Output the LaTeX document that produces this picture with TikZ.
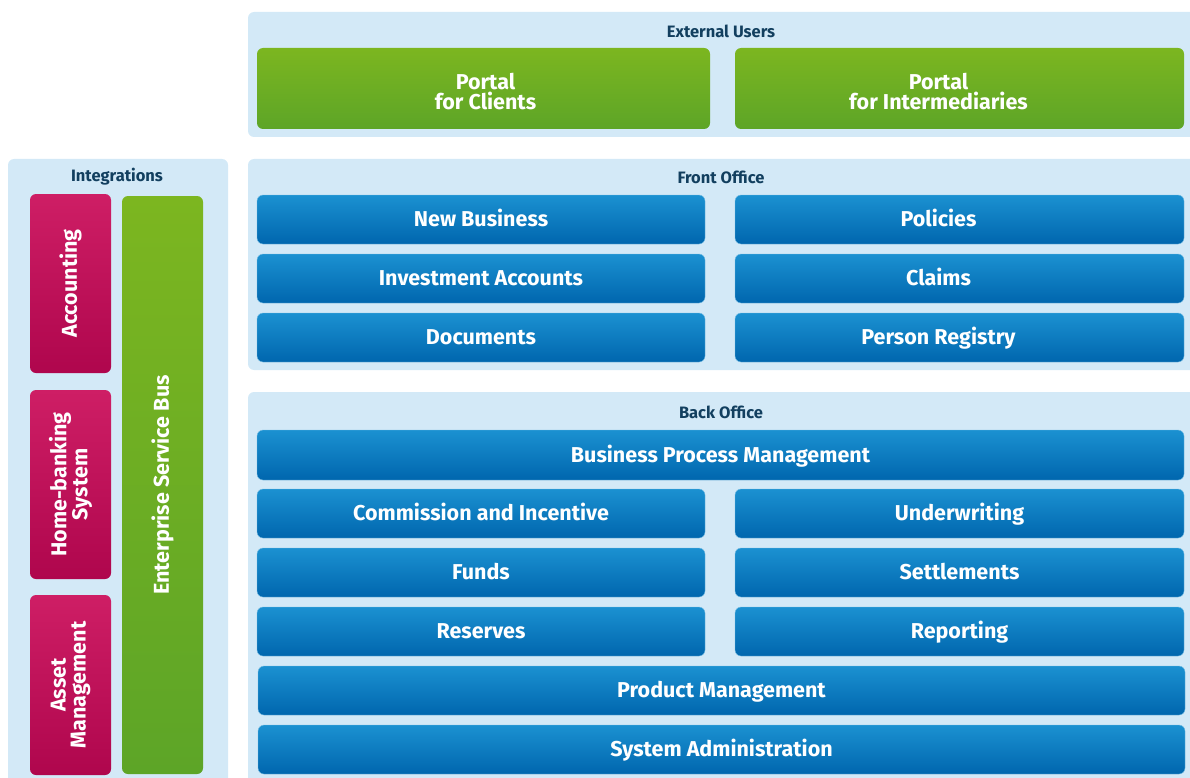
\documentclass[tikz,border=0pt]{standalone}
\usepackage{fontspec}
\setmainfont{Fira Sans}
\usepackage{tikz}
\usetikzlibrary{positioning, calc}

\definecolor{panelbg}{HTML}{D3E9F7}
\definecolor{titleblue}{HTML}{123F5F}
\definecolor{bluetop}{HTML}{1B91D1}
\definecolor{bluebot}{HTML}{0066AE}
\definecolor{greentop}{HTML}{7CB620}
\definecolor{greenbot}{HTML}{5DA527}
\definecolor{magtop}{HTML}{CE1E65}
\definecolor{magbot}{HTML}{AF064D}

\tikzset{
	panel/.style={fill=panelbg, rounded corners=6pt, anchor=north west, inner sep=0pt, outer sep=0pt},
	paneltitle/.style={text=titleblue, font=\bfseries\fontsize{16.5}{18}\selectfont},
	boxtext/.style={text=white, font=\bfseries\fontsize{21.5}{20}\selectfont, align=center},
	onerow/.style={text height=17pt, text depth=2.2pt},
	box/.style={rounded corners=6pt, anchor=north west, inner sep=0pt, outer sep=0pt, boxtext},
	bluebox/.style={box, onerow, top color=bluetop, bottom color=bluebot, draw=bluetop!60!white, line width=0.4pt},
	greenbox/.style={box, top color=greentop, bottom color=greenbot},
	magbox/.style={box, top color=magtop, bottom color=magbot},
	vlabel/.style={boxtext, rotate=90},
	offtext/.style={label={[boxtext, onerow, xshift=-21]center:#1}}
}

\begin{document}
\begin{tikzpicture}[x=1pt, y=-1pt]
	\useasboundingbox (0,0) rectangle (1190,778);
	
	%panels
	\node[panel, minimum width=950, minimum height=125] (ext) at (248,12) {};
	\node[panel, minimum width=220, minimum height=640] (integ) at (8,159) {};
	\node[panel, minimum width=950, minimum height=211] (front) at (248,159) {};
	\node[panel, minimum width=950, minimum height=400] (back) at (248,392) {};
	
	\node[paneltitle] (ext-t) at (721,31) {External Users};
	\node[paneltitle] (integ-t) at (117,177) {Integrations};
	\node[paneltitle] (front-t) at (721,177) {Front Office};
	\node[paneltitle] (back-t) at (721,412) {Back Office};
	
	%external users
	\node[greenbox, minimum width=453, minimum height=81,
		label={[boxtext, xshift=2, yshift=-3]center:Portal\\for Clients}] (clients) at (257,48) {};
	\node[greenbox, minimum width=449, minimum height=81,
		label={[boxtext, xshift=-21, yshift=-3]center:Portal\\for Intermediaries}] (interm) at (735,48) {};
	
	%front office
	\foreach \y/\name/\lft/\rgt in {195/fa/New Business/Policies, 254/fb/Investment Accounts/Claims, 313/fc/Documents/Person Registry}
	{
		\node[bluebox, minimum width=448, minimum height=49] (\name-l) at (257,\y) {\lft};
		\node[bluebox, minimum width=449, minimum height=49, offtext=\rgt] (\name-r) at (735,\y) {};
	}
	
	%back office
	\node[bluebox, minimum width=927, minimum height=50] (bpm) at (257,430) {Business Process Management};
	\foreach \y/\name/\lft/\rgt in {489/ba/Commission and Incentive/Underwriting, 548/bb/Funds/Settlements, 607/bc/Reserves/Reporting}
	{
		\node[bluebox, minimum width=448, minimum height=49] (\name-l) at (257,\y) {\lft};
		\node[bluebox, minimum width=449, minimum height=49] (\name-r) at (735,\y) {\rgt};
	}
	\node[bluebox, minimum width=927, minimum height=49] (prod) at (258,666) {Product Management};
	\node[bluebox, minimum width=927, minimum height=49] (sysadm) at (258,725) {System Administration};
	
	%integrations
	\node[magbox, minimum width=81, minimum height=179] (acc) at (30,194) {};
	\node[magbox, minimum width=81, minimum height=189] (homebank) at (30,390) {};
	\node[magbox, minimum width=81, minimum height=180] (asset) at (30,595) {};
	\node[greenbox, minimum width=81, minimum height=578] (esb) at (122,196) {};
	
	\node[vlabel] at (acc.center) {Accounting};
	\node[vlabel] at (homebank.center) {Home-banking\\System};
	\node[vlabel] at (asset.center) {Asset\\Management};
	\node[vlabel] at (esb.center) {Enterprise Service Bus};
\end{tikzpicture}
\end{document}
